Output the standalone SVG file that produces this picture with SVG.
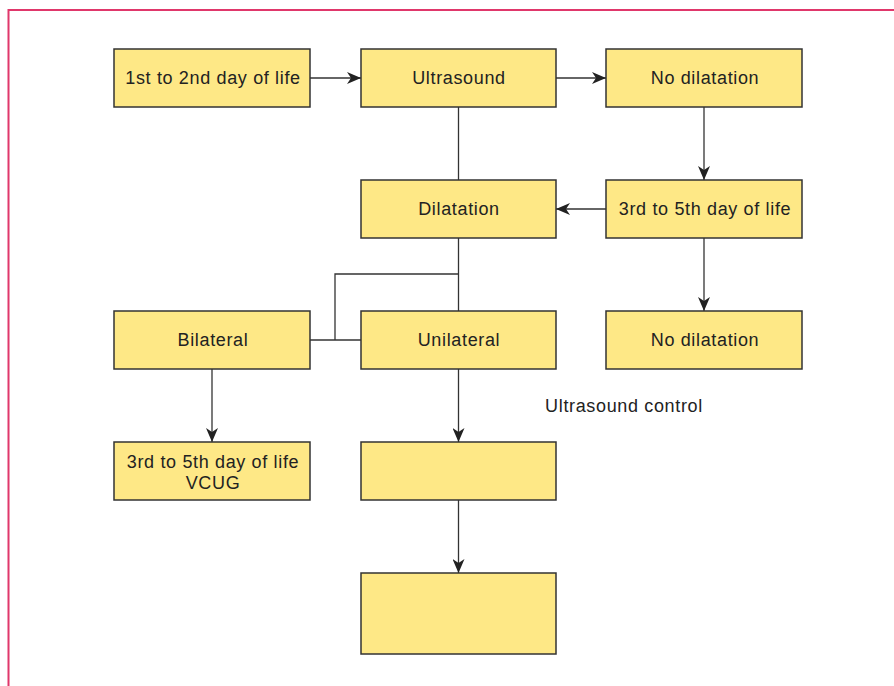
<svg xmlns="http://www.w3.org/2000/svg" width="894" height="686" viewBox="0 0 894 686">
<style>
.box{fill:#fee886;stroke:#333;stroke-width:1.5}
.t{font-family:"Liberation Sans",Arial,sans-serif;font-size:18px;letter-spacing:0.65px;fill:#222;text-anchor:middle}
.c{fill:none;stroke:#333;stroke-width:1.3}
.a{marker-end:url(#ah)}
</style>
<defs>
<marker id="ah" viewBox="0 0 14 12" refX="14" refY="6" markerWidth="14" markerHeight="12" markerUnits="userSpaceOnUse" orient="auto">
<path d="M0,0 L14,6 L0,12 L4,6 Z" fill="#222"/>
</marker>
</defs>
<rect width="894" height="686" fill="#fff"/>
<path d="M8.5,686 V10 H894" fill="none" stroke="#e0376b" stroke-width="2"/>
<g id="connectors">
<path class="c a" d="M310,78 H361"/>
<path class="c a" d="M556,78 H606"/>
<path class="c a" d="M704,107 V180"/>
<path class="c a" d="M606,209 H556"/>
<path class="c a" d="M704,238 V311"/>
<path class="c" d="M458.5,107 V180"/>
<path class="c" d="M458.5,238 V311"/>
<path class="c" d="M458.5,274 H335 V340"/>
<path class="c" d="M310,340 H361"/>
<path class="c a" d="M212,369 V442"/>
<path class="c a" d="M458.5,369 V442"/>
<path class="c a" d="M458.5,500 V573"/>
</g>
<g id="n1"><rect class="box" x="114" y="49" width="196" height="58"/><text class="t" x="213" y="84">1st to 2nd day of life</text></g>
<g id="n2"><rect class="box" x="361" y="49" width="195" height="58"/><text class="t" x="459" y="84">Ultrasound</text></g>
<g id="n3"><rect class="box" x="606" y="49" width="196" height="58"/><text class="t" x="705" y="84">No dilatation</text></g>
<g id="n4"><rect class="box" x="361" y="180" width="195" height="58"/><text class="t" x="459" y="215">Dilatation</text></g>
<g id="n5"><rect class="box" x="606" y="180" width="196" height="58"/><text class="t" x="705" y="215">3rd to 5th day of life</text></g>
<g id="n6"><rect class="box" x="114" y="311" width="196" height="58"/><text class="t" x="213" y="346">Bilateral</text></g>
<g id="n7"><rect class="box" x="361" y="311" width="195" height="58"/><text class="t" x="459" y="346">Unilateral</text></g>
<g id="n8"><rect class="box" x="606" y="311" width="196" height="58"/><text class="t" x="705" y="346">No dilatation</text></g>
<g id="n9"><rect class="box" x="114" y="442" width="196" height="58"/><text class="t" x="213" y="468">3rd to 5th day of life</text><text class="t" x="213" y="489">VCUG</text></g>
<g id="n10"><rect class="box" x="361" y="442" width="195" height="58"/></g>
<g id="n11"><rect class="box" x="361" y="573" width="195" height="81"/></g>
<g id="label"><text class="t" x="624" y="412">Ultrasound control</text></g>
</svg>
